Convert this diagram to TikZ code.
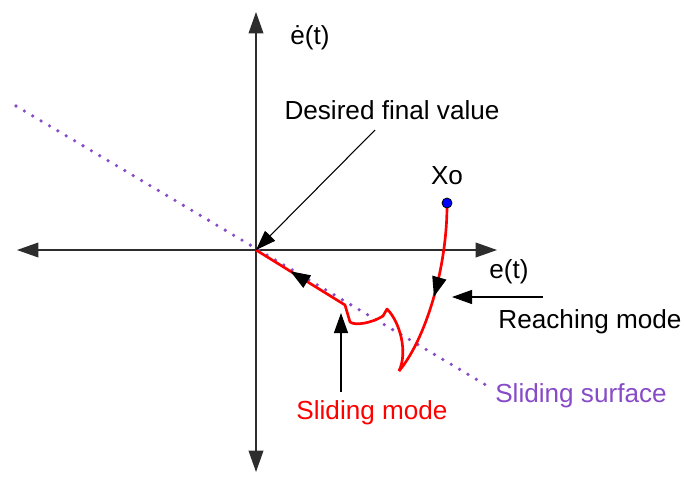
\documentclass[tikz,border=0pt]{standalone}
\usepackage{fontspec}
\setmainfont{Liberation Sans}
\usetikzlibrary{arrows.meta, decorations.markings}
\definecolor{axisgray}{RGB}{45,45,45}
\definecolor{surfpurple}{RGB}{135,75,200}
\tikzset{
    axis/.style={draw=axisgray, line width=1.1pt, {Triangle[length=16pt,width=11pt]}-{Triangle[length=16pt,width=11pt]}},
    pointer/.style={draw=black, line width=0.8pt, -{Triangle[length=15pt,width=10.5pt]}},
    lbl/.style={font=\fontsize{19.6pt}{23pt}\selectfont, inner sep=0pt},
    traj/.style={draw=red, line width=2pt, line join=round},
    midarrow/.style={postaction={decorate, decoration={markings, mark=at position #1 with {\arrow[color=black]{Triangle[length=15pt,width=10.5pt]}}}}},
    surface/.style={draw=surfpurple, line width=2.7pt, line cap=round, dash pattern=on 0pt off 7.3pt}
}
\begin{document}
\begin{tikzpicture}[x=0.75pt, y=-0.75pt]
    \useasboundingbox (0,0) rectangle (684,486);
    % axes
    \coordinate (O) at (256,250);
    \coordinate (xl) at (17,250);
    \coordinate (xr) at (497,250);
    \coordinate (yt) at (256,12);
    \coordinate (yb) at (256,472);
    \draw[axis] (xl) -- (xr);
    \draw[axis] (yb) -- (yt);
    \node[lbl] (edot) at (310,38) {ė(t)};
    \node[lbl] (e) at (509,272) {e(t)};

    % sliding surface
    \coordinate (s1) at (16,106);
    \coordinate (s2) at (491,388);
    \draw[surface] (s1) -- (s2);
    \node[lbl, text=surfpurple] (surf) at (581,396) {Sliding surface};

    % trajectory
    \coordinate (turn) at (399,371);
    \draw[traj, midarrow=0.53] (447,205) .. controls (447,270) and (425,340) .. (turn);
    \draw[traj, midarrow=-30pt] (turn) .. controls (408,352) and (400,322) .. (387,309)
        -- (383,316) .. controls (372,323) and (355,326) .. (350,322) -- (345,305) -- (O);
    \node[circle, fill=blue, draw=black, line width=0.6pt, inner sep=0pt, minimum size=7.5pt] (x0) at (447,203) {};
    \node[lbl] (xo) at (447,176) {Xo};

    % labels with pointers
    \node[lbl] (desired) at (392,110) {Desired final value};
    \coordinate (dtail) at (375,130);
    \draw[pointer] (dtail) -- (O);

    \node[lbl] (reach) at (590,322) {Reaching mode};
    \coordinate (rtail) at (543,297);
    \coordinate (rhead) at (452,297);
    \draw[pointer] (rtail) -- (rhead);

    \node[lbl, text=red] (slide) at (372,413) {Sliding mode};
    \coordinate (stail) at (341,392);
    \coordinate (shead) at (341,313);
    \draw[pointer] (stail) -- (shead);
\end{tikzpicture}
\end{document}
